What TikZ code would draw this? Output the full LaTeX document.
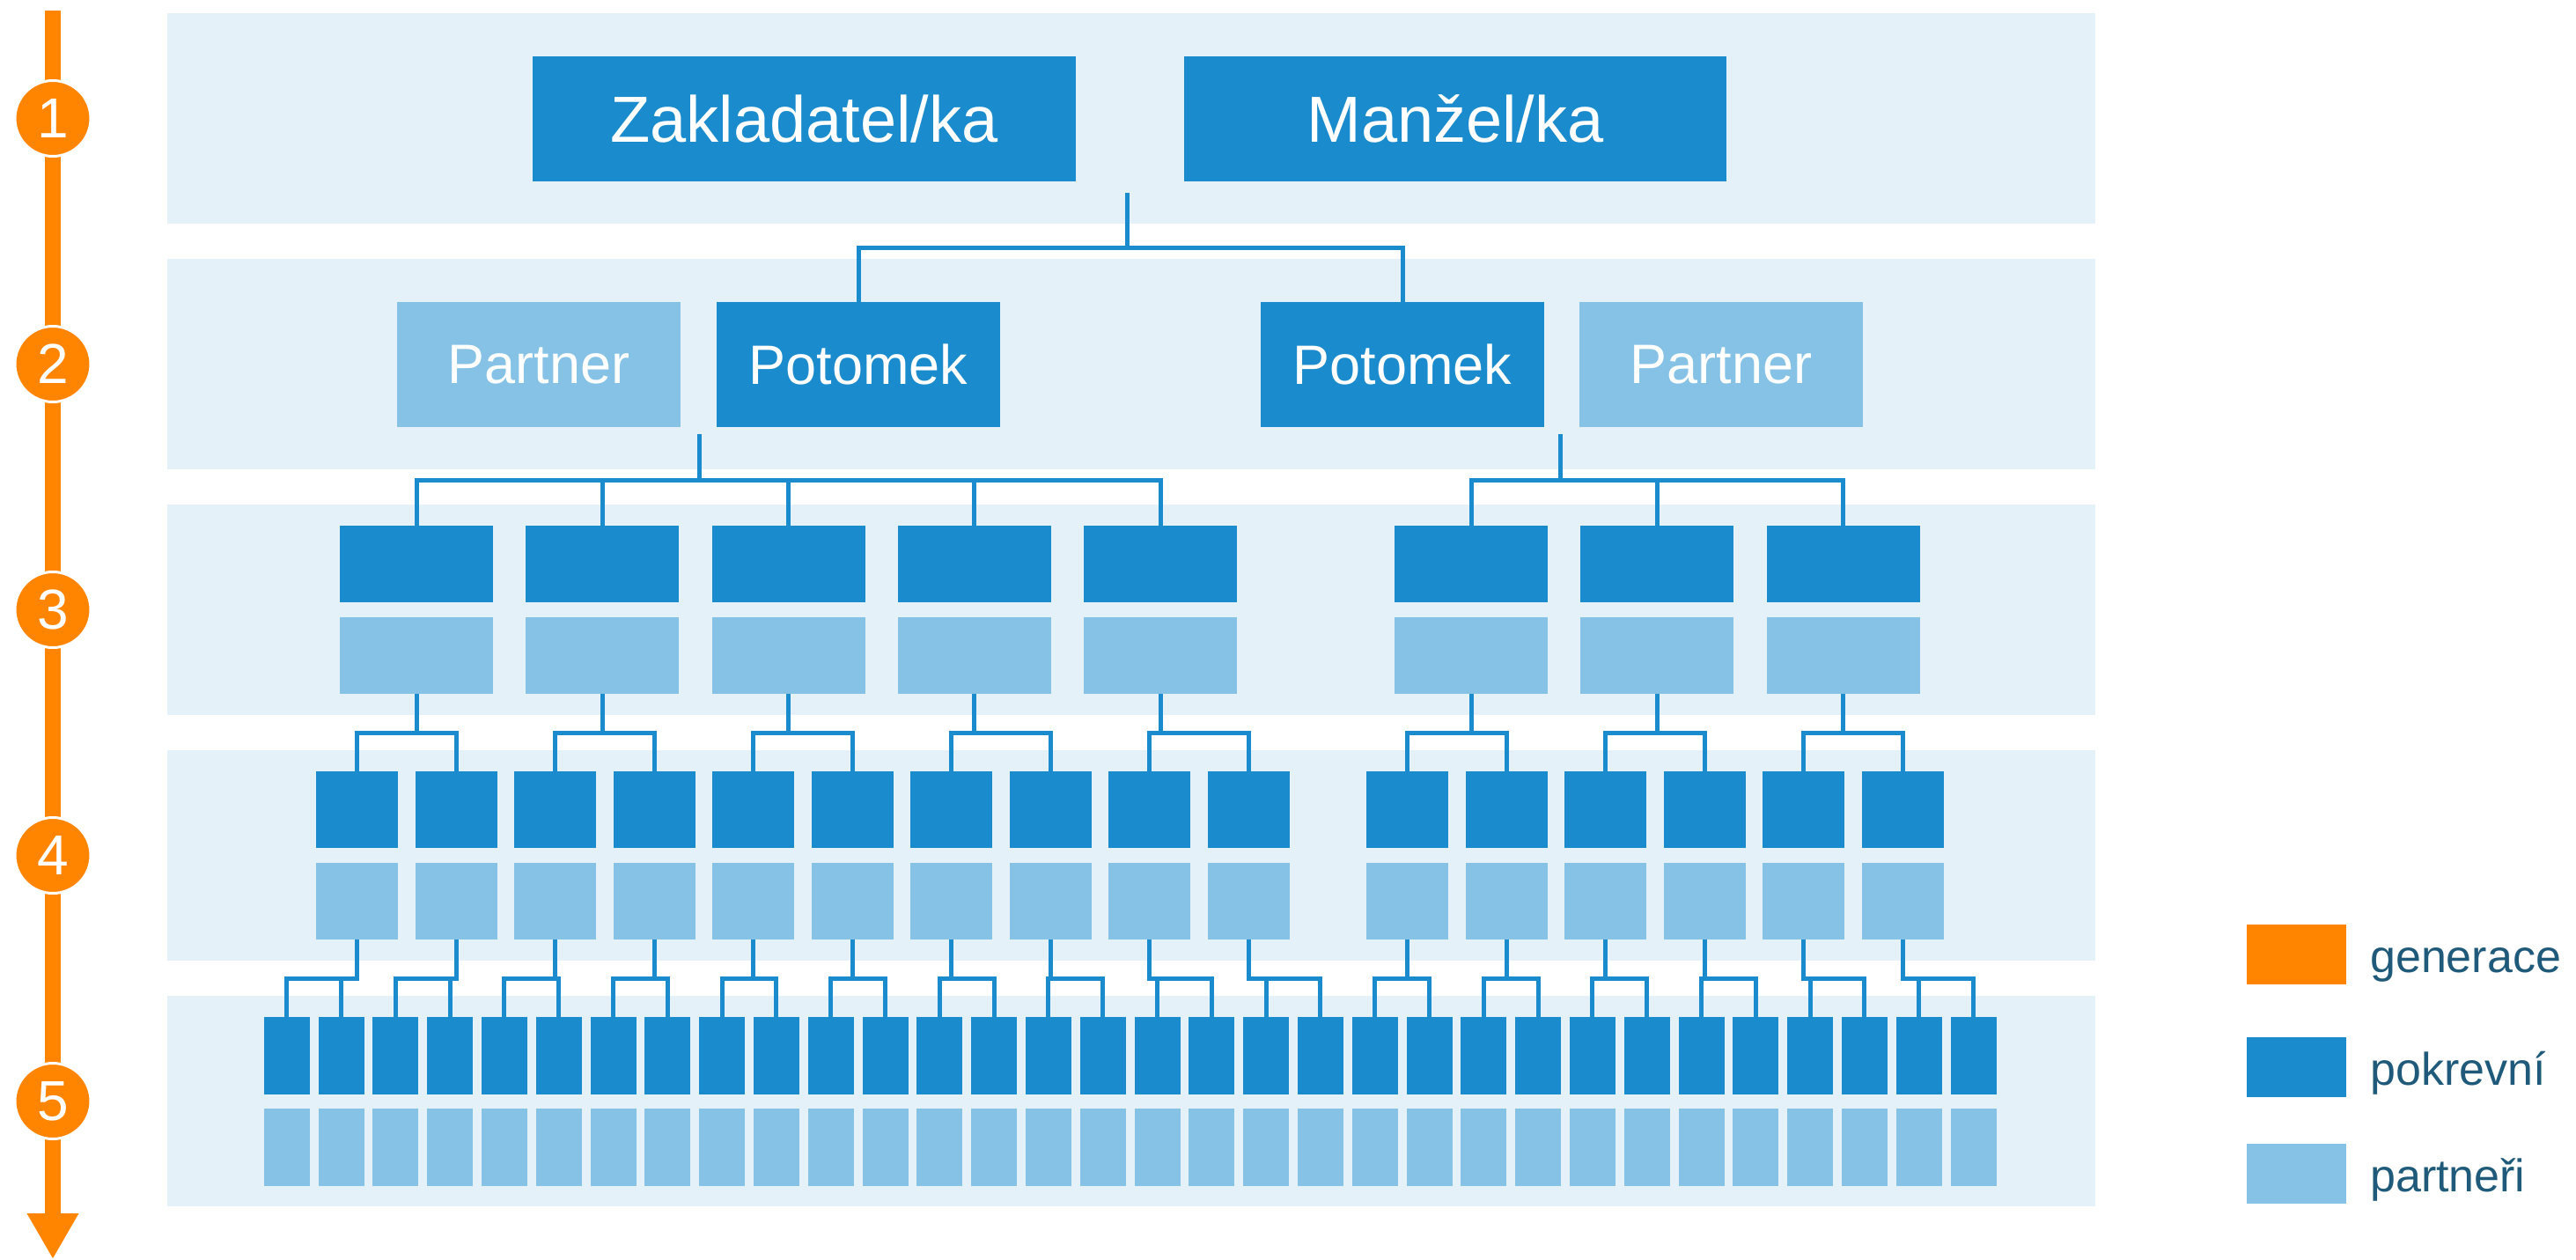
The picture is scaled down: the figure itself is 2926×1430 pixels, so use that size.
\documentclass[tikz,border=0pt]{standalone}
\usepackage{fontspec}
\setmainfont{Liberation Sans}
\usetikzlibrary{arrows.meta}

\definecolor{cBlood}{HTML}{1A8BCD}
\definecolor{cPartner}{HTML}{85C2E6}
\definecolor{cBand}{HTML}{E4F1F8}
\definecolor{cOrange}{HTML}{FF8500}
\definecolor{cLegend}{HTML}{1F5A7A}

\begin{document}
\begin{tikzpicture}[x=1pt,y=-1pt,
    dims/.style 2 args={minimum width=#1pt,minimum height=#2pt},
    bandbox/.style={rectangle,fill=cBand,inner sep=0pt,dims={2190}{239}},
    bloodbox/.style={rectangle,fill=cBlood,inner sep=0pt,text=white},
    partnerbox/.style={rectangle,fill=cPartner,inner sep=0pt,text=white},
    genball/.style={circle,fill=cOrange,draw=white,line width=3pt,minimum size=86pt,
        inner sep=0pt,text=white,font=\fontsize{64}{64}\selectfont},
    link/.style={draw=cBlood,line width=5pt},
    legbox/.style={rectangle,inner sep=0pt,dims={113}{68}},
    legtext/.style={anchor=base west,inner sep=0pt,text=cLegend,font=\fontsize{52}{52}\selectfont}]
  \useasboundingbox (0,0) rectangle (2926,1430);

  % pasy generaci
  \foreach \k in {1,...,5}
    \node[bandbox] (band\k) at (1285,{134.5+279*(\k-1)}) {};

  % casova osa
  \coordinate (axtop) at (60,12);
  \coordinate (axend) at (60,1430);
  \draw[cOrange,line width=18pt,-{Triangle[length=52pt,width=55pt]}] (axtop) -- (axend);
  \foreach \k in {1,...,5}
    \node[genball] (gen\k) at (60,{134.5+279*(\k-1)}) {\k};

  % 1. generace
  \node[bloodbox,dims={617}{142},font=\fontsize{74}{80}\selectfont] (zak) at (913.5,135) {Zakladatel/ka};
  \node[bloodbox,dims={616}{142},font=\fontsize{74}{80}\selectfont] (man) at (1653,135) {Manžel/ka};

  % 2. generace
  \node[partnerbox,dims={322}{142},font=\fontsize{63}{70}\selectfont] (pat1) at (612,414) {Partner};
  \node[bloodbox,dims={322}{142},font=\fontsize{63}{70}\selectfont] (pot1) at (975,414) {Potomek};
  \node[bloodbox,dims={322}{142},font=\fontsize{63}{70}\selectfont] (pot2) at (1593,414) {Potomek};
  \node[partnerbox,dims={322}{142},font=\fontsize{63}{70}\selectfont] (pat2) at (1955,414) {Partner};

  % 3. generace
  \foreach \i in {0,...,7}{
    \pgfmathsetmacro{\x}{473+211.3*\i+141.5*(\i>4)}
    \node[bloodbox,dims={174}{87}] (g3d\i) at (\x,640.5) {};
    \node[partnerbox,dims={174}{87}] (g3p\i) at (\x,744.5) {};
  }

  % 4. generace
  \foreach \i in {0,...,15}{
    \pgfmathsetmacro{\x}{405.5+112.5*\i+68*(\i>9)}
    \node[bloodbox,dims={93}{87}] (g4d\i) at (\x,919.5) {};
    \node[partnerbox,dims={93}{87}] (g4p\i) at (\x,1023.5) {};
  }

  % 5. generace
  \foreach \i in {0,...,31}{
    \pgfmathsetmacro{\x}{325.7+61.8*\i}
    \node[bloodbox,dims={52}{88}] (g5d\i) at (\x,1199) {};
    \node[partnerbox,dims={52}{88}] (g5p\i) at (\x,1303) {};
  }

  % spojnice
  \coordinate (cpl0) at (1280,219);
  \draw[link] (cpl0) -- ++(0,62) coordinate (j1) -| (pot1.north);
  \draw[link] (j1) -| (pot2.north);

  \coordinate (cplL) at (794,493);
  \coordinate (cplR) at (1772,493);
  \draw[link] (cplL) -- ++(0,52) coordinate (j2L);
  \draw[link] (cplR) -- ++(0,52) coordinate (j2R);
  \foreach \i in {0,...,4}
    \draw[link] (j2L) -| (g3d\i.north);
  \foreach \i in {5,6,7}
    \draw[link] (j2R) -| (g3d\i.north);

  \foreach \i in {0,...,7}{
    \pgfmathtruncatemacro{\a}{2*\i}
    \pgfmathtruncatemacro{\b}{2*\i+1}
    \draw[link] (g3p\i.south) -- ++(0,44) coordinate (j3\i) -| (g4d\a.north);
    \draw[link] (j3\i) -| (g4d\b.north);
  }

  \foreach \i in {0,...,15}{
    \pgfmathtruncatemacro{\a}{2*\i}
    \pgfmathtruncatemacro{\b}{2*\i+1}
    \draw[link] (g4p\i.south) -- ++(0,44) coordinate (j4\i) -| (g5d\a.north);
    \draw[link] (j4\i) -| (g5d\b.north);
  }

  % legenda
  \node[legbox,fill=cOrange] (legGen) at (2608.5,1084) {};
  \node[legbox,fill=cBlood] (legBlood) at (2608.5,1212) {};
  \node[legbox,fill=cPartner] (legPart) at (2608.5,1333) {};
  \node[legtext] (txtGen) at (2692,1104) {generace};
  \node[legtext] (txtBlood) at (2692,1232) {pokrevní};
  \node[legtext] (txtPart) at (2692,1353) {partneři};
\end{tikzpicture}
\end{document}
